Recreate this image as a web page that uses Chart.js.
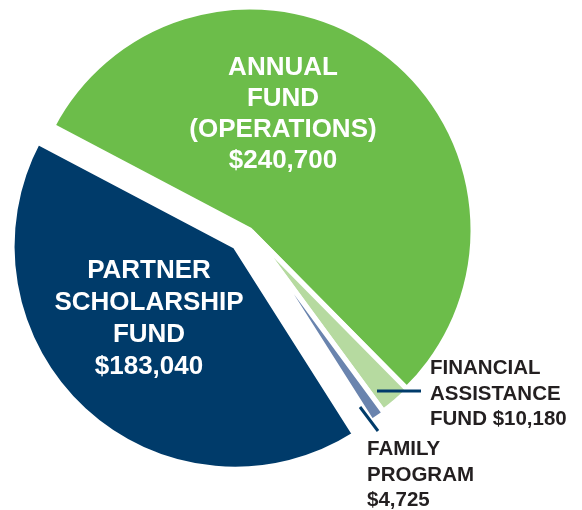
<!DOCTYPE html>
<html>
<head>
<meta charset="utf-8">
<script src="https://cdn.jsdelivr.net/npm/chart.js@4.4.0/dist/chart.umd.min.js"></script>
<style>
  html, body { margin: 0; padding: 0; background: #fff; }
  #wrap { width: 582px; height: 510px; position: relative; }
</style>
</head>
<body>
<div id="wrap"><canvas id="pieChart"></canvas></div>
<script>
// Fund breakdown data
const categories = ["Annual Fund (Operations)", "Financial Assistance Fund", "Family Program", "Partner Scholarship Fund"];
const amounts = [240700, 10180, 4725, 183040];
const labelNames = [
    ["ANNUAL", "FUND", "(OPERATIONS)"],
    ["FINANCIAL", "ASSISTANCE", "FUND"],
    ["FAMILY", "PROGRAM"],
    ["PARTNER", "SCHOLARSHIP", "FUND"]
];

const money = v => "$" + v.toLocaleString("en-US");
const navy = "#003B6A";

// Pull slices away from the centre (px)
const explodePlugin = {
    id: "explode",
    afterUpdate(chart, args, opts) {
        const arcs = chart.getDatasetMeta(0).data;
        arcs.forEach((arc, i) => {
            const d = opts.distance[i] || 0;
            const mid = (arc.startAngle + arc.endAngle) / 2;
            arc.x += Math.cos(mid) * d;
            arc.y += Math.sin(mid) * d;
        });
    }
};

// Slice labels + leader lines
const labelPlugin = {
    id: "sliceLabels",
    afterDatasetsDraw(chart, args, opts) {
        const ctx = chart.ctx;
        ctx.save();
        opts.items.forEach(item => {
            const lines = labelNames[item.index].slice();
            const value = money(amounts[item.index]);
            if (item.valueInline) {
                lines[lines.length - 1] += " " + value;
            } else {
                lines.push(value);
            }
            ctx.font = "bold " + item.size + "px 'Liberation Sans', Arial, sans-serif";
            ctx.fillStyle = item.color;
            ctx.textAlign = item.align;
            ctx.textBaseline = "alphabetic";
            lines.forEach((line, j) => ctx.fillText(line, item.x, item.y + j * item.lineHeight));

            if (item.leader) {
                ctx.strokeStyle = navy;
                ctx.lineWidth = 3;
                ctx.beginPath();
                ctx.moveTo(item.leader[0], item.leader[1]);
                ctx.lineTo(item.leader[2], item.leader[3]);
                ctx.stroke();
            }
        });
        ctx.restore();
    }
};

new Chart(document.getElementById("pieChart"), {
    type: "pie",
    data: {
        labels: categories,
        datasets: [{
            data: amounts,
            backgroundColor: ["#6CBD4A", "#B6DAA0", "#6A84AE", navy],
            borderColor: "#ffffff",
            borderWidth: 5
        }]
    },
    options: {
        responsive: true,
        maintainAspectRatio: false,
        animation: false,
        events: [],
        rotation: 297.8,
        radius: 223,
        layout: { padding: { left: 0, right: 82, top: 0, bottom: 50 } },
        plugins: {
            legend: { display: false },
            tooltip: { enabled: false },
            explode: { distance: [0, 2, 4, 22] },
            sliceLabels: {
                items: [
                    { index: 0, x: 283, y: 75, size: 26, lineHeight: 31, align: "center", color: "#ffffff" },
                    { index: 3, x: 149, y: 278, size: 26, lineHeight: 32, align: "center", color: "#ffffff" },
                    { index: 1, x: 430, y: 374, size: 20.5, lineHeight: 25.5, align: "left", color: "#231F20",
                      valueInline: true, leader: [377, 391, 421, 391] },
                    { index: 2, x: 367, y: 455, size: 20.5, lineHeight: 25.5, align: "left", color: "#231F20",
                      leader: [360, 407, 378, 431] }
                ]
            }
        }
    },
    plugins: [explodePlugin, labelPlugin]
});
</script>
</body>
</html>
